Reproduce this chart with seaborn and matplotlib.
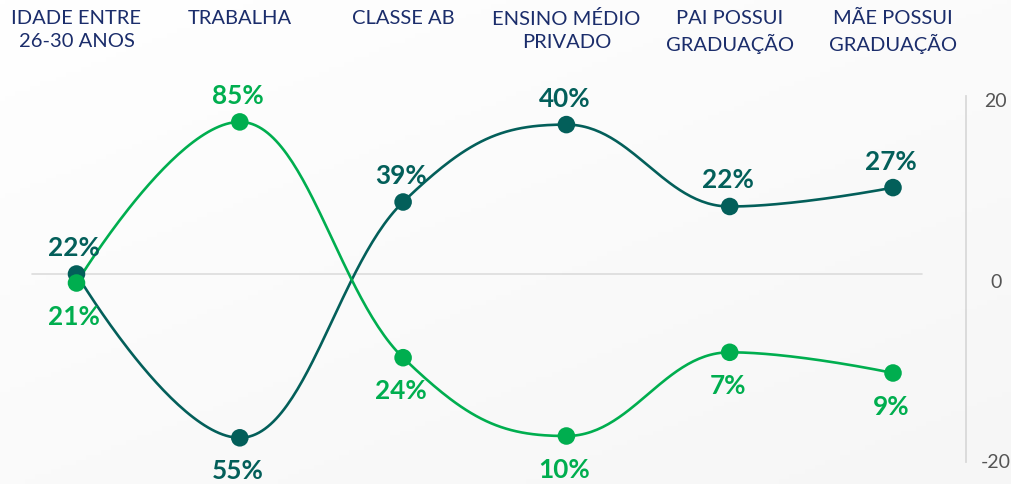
import numpy as np
import pandas as pd
import matplotlib
matplotlib.use("Agg")
import matplotlib.pyplot as plt
import matplotlib.transforms as mtransforms
import seaborn as sns

# ---------------- data ----------------
categories = ["IDADE ENTRE\n26-30 ANOS", "TRABALHA", "CLASSE AB",
              "ENSINO MÉDIO\nPRIVADO", "PAI POSSUI\nGRADUAÇÃO", "MÃE POSSUI\nGRADUAÇÃO"]
teal_values = [0.0, -18.2, 8.0, 16.6, 7.5, 9.6]
green_values = [-1.0, 16.9, -9.3, -18.0, -8.7, -11.0]
teal_labels = ["22%", "55%", "39%", "40%", "22%", "27%"]
green_labels = ["21%", "85%", "24%", "10%", "7%", "9%"]
axis_ticks = [20, 0, -20]

TEAL = "#035f5a"
GREEN = "#00ae4f"
NAVY = "#1b2d6b"

sns.set_theme(style="white")
plt.rcParams["font.family"] = ["Lato", "DejaVu Sans"]


def spline_path(xs, ys, n=60):
    """Highcharts-style spline (cubic Bezier through points)."""
    smoothing = 1.5
    denom = smoothing + 1
    N = len(xs)
    lc = [None] * N
    rc = [None] * N
    for i in range(1, N - 1):
        x, y = xs[i], ys[i]
        lx = (smoothing * x + xs[i - 1]) / denom
        ly = (smoothing * y + ys[i - 1]) / denom
        rx = (smoothing * x + xs[i + 1]) / denom
        ry = (smoothing * y + ys[i + 1]) / denom
        corr = 0.0
        if rx != lx:
            corr = ((ry - ly) * (rx - x)) / (rx - lx) + y - ry
        ly += corr
        ry += corr
        last, nxt = ys[i - 1], ys[i + 1]
        if ly > last and ly > y:
            ly = max(last, y); ry = 2 * y - ly
        elif ly < last and ly < y:
            ly = min(last, y); ry = 2 * y - ly
        if ry > nxt and ry > y:
            ry = max(nxt, y); ly = 2 * y - ry
        elif ry < nxt and ry < y:
            ry = min(nxt, y); ly = 2 * y - ry
        lc[i] = (lx, ly)
        rc[i] = (rx, ry)
    t = np.linspace(0, 1, n)
    px, py = [], []
    for i in range(1, N):
        p0 = np.array([xs[i - 1], ys[i - 1]])
        p3 = np.array([xs[i], ys[i]])
        c1 = np.array(rc[i - 1]) if rc[i - 1] is not None else p0
        c2 = np.array(lc[i]) if lc[i] is not None else p3
        b = ((1 - t) ** 3)[:, None] * p0 + (3 * (1 - t) ** 2 * t)[:, None] * c1 \
            + (3 * (1 - t) * t ** 2)[:, None] * c2 + (t ** 3)[:, None] * p3
        px.extend(b[:, 0]); py.extend(b[:, 1])
    return np.array(px), np.array(py)


W, H = 1012, 485
fig = plt.figure(figsize=(W / 100, H / 100), dpi=100)

# background gradient
bg = fig.add_axes([0, 0, 1, 1], zorder=-10)
gx = np.linspace(0, 1, 200)
gy = np.linspace(0, 1, 100)
GX, GY = np.meshgrid(gx, gy)
grad = 1.0 - 0.035 * np.clip(0.55 * GY + 0.45 * GX, 0, 1)
bg.imshow(np.dstack([grad, grad, grad]), aspect="auto", extent=[0, 1, 0, 1], origin="upper")
bg.set_axis_off()

left_px, right_px, top_px, bot_px = 0, 966, 97, 463
ax = fig.add_axes([left_px / W, (H - bot_px) / H, (right_px - left_px) / W, (bot_px - top_px) / H])
ax.patch.set_alpha(0)

x_idx = np.arange(len(categories))
x0_px, step_px = 76.5, 163.3
ax.set_xlim((left_px - x0_px) / step_px, (right_px - x0_px) / step_px)
zero_px, unit_px = 275.0, 9.0
ax.set_ylim(-(bot_px - zero_px) / unit_px, (zero_px - top_px) / unit_px)
for s in ax.spines.values():
    s.set_visible(False)
ax.set_xticks([]); ax.set_yticks([])

# zero line
ax.axhline(0, xmin=32 / 966, xmax=922 / 966, color="#dcdcdc", lw=1.2, zorder=1)

for vals, col in [(teal_values, TEAL), (green_values, GREEN)]:
    sx, sy = spline_path(list(x_idx.astype(float)), vals)
    sns.lineplot(x=sx, y=sy, sort=False, estimator=None, color=col, lw=1.9, ax=ax, zorder=3)
    sns.scatterplot(x=x_idx, y=vals, color=col, s=160, edgecolor="none", ax=ax, zorder=4)

# value labels: higher point above, lower point below
for i in x_idx:
    tv, gv = teal_values[i], green_values[i]
    for v, lab, col, other in [(tv, teal_labels[i], TEAL, gv), (gv, green_labels[i], GREEN, tv)]:
        off = 19.5 if v >= other else -23.5
        ax.annotate(lab, (i, v), xytext=(-1.5, off), textcoords="offset points",
                    ha="center", va="center", color=col, fontsize=18.8,
                    fontweight="bold", annotation_clip=False, zorder=5)

# category labels at top
trans = mtransforms.blended_transform_factory(ax.transData, fig.transFigure)
for i, c in enumerate(categories):
    ax.text(i, 1 - 10 / H, c, transform=trans, ha="center", va="top",
            color=NAVY, fontsize=14.5, linespacing=1.4)

# right axis with ticks
ax2 = ax.twinx()
ax2.patch.set_alpha(0)
ax2.set_ylim((280.5 - bot_px) / 9.025, (280.5 - top_px) / 9.025)
for k, s in ax2.spines.items():
    s.set_visible(k == "right")
ax2.spines["right"].set_color("#d9d9d9")
ax2.spines["right"].set_linewidth(1.3)
ax2.set_yticks(axis_ticks)
ax2.set_yticklabels([str(t) for t in axis_ticks])
ax2.tick_params(axis="y", length=0, pad=21.5, labelsize=14, labelcolor="#555555")
for lbl in ax2.get_yticklabels():
    lbl.set_horizontalalignment("center")
ax2.set_xticks([])

fig.savefig("out.png", dpi=100)
